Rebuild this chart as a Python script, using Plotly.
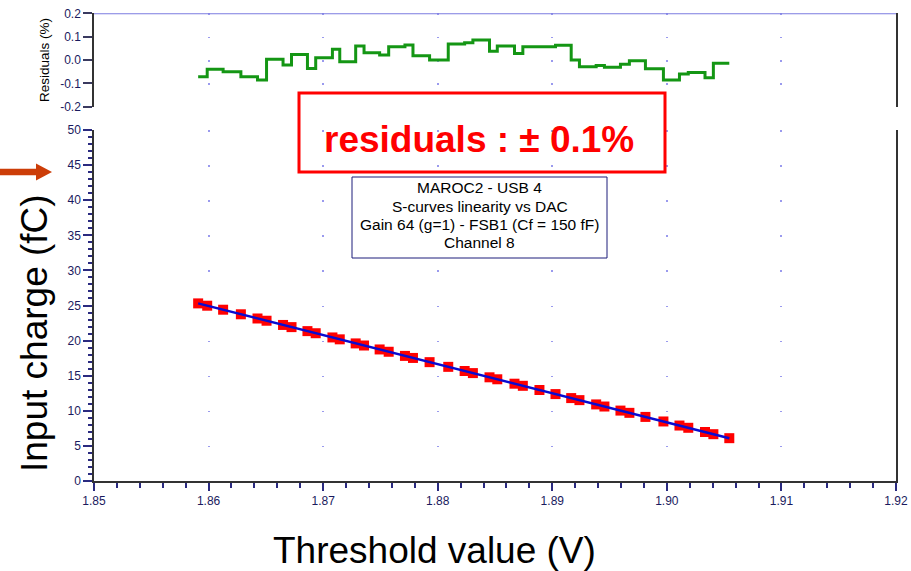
import numpy as np
import plotly.graph_objects as go

# Threshold (V) at which each S-curve reaches 50 %
threshold_v = [1.85909, 1.85988, 1.86127, 1.86282, 1.86427, 1.86506, 1.86650, 1.86724,
               1.86863, 1.86935, 1.87081, 1.87145, 1.87284, 1.87357, 1.87493, 1.87572,
               1.87714, 1.87784, 1.87929, 1.88092, 1.88235, 1.88307, 1.88452, 1.88520,
               1.88670, 1.88743, 1.88888, 1.89028, 1.89165, 1.89237, 1.89383, 1.89455,
               1.89595, 1.89673, 1.89813, 1.89970, 1.90110, 1.90187, 1.90333, 1.90406,
               1.90545]

# Injected charge (fC)
charge_fc = [25.30, 24.97, 24.40, 23.75, 23.15, 22.83, 22.23, 21.92, 21.35, 21.05,
             20.45, 20.18, 19.60, 19.30, 18.74, 18.41, 17.82, 17.53, 16.93, 16.26,
             15.67, 15.37, 14.77, 14.49, 13.86, 13.56, 12.96, 12.38, 11.81, 11.52,
             10.91, 10.61, 10.03, 9.71, 9.13, 8.48, 7.90, 7.58, 6.98, 6.67, 6.10]

# Residuals of the linear fit (%)
residual_pct = [-0.072, -0.040, -0.050, -0.072, -0.086, 0.003, -0.021, 0.024, -0.036,
                0.010, 0.046, -0.007, 0.060, 0.031, 0.021, 0.057, 0.064, 0.018, 0.000,
                0.068, 0.074, 0.086, 0.038, 0.060, 0.028, 0.057, 0.057, 0.063, 0.000,
                -0.029, -0.024, -0.031, -0.018, -0.003, -0.038, -0.086, -0.060, -0.053,
                -0.076, -0.014, -0.014]

residual_ticks = [-0.2, -0.1, 0.0, 0.1, 0.2]
residual_tick_text = ["-0.2", "-0.1", "0.0", "0.1", "0.2"]

info_lines = ["MAROC2 - USB 4", "S-curves linearity vs DAC",
              "Gain 64 (g=1) - FSB1 (Cf = 150 fF)", "Channel 8"]

W, H = 911, 571
FONT = "Arial, Liberation Sans, sans-serif"


def px(x):
    return x / W


def py(y):
    return 1 - y / H


fig = go.Figure()

# residual panel
fig.add_trace(go.Scatter(x=threshold_v, y=residual_pct, mode="lines",
                         line=dict(color="#149614", width=3, shape="hv"),
                         xaxis="x2", yaxis="y2", showlegend=False))

# measured points
fig.add_trace(go.Scatter(x=threshold_v, y=charge_fc, mode="markers",
                         marker=dict(symbol="square", size=10, color="#ff0000"),
                         xaxis="x", yaxis="y", showlegend=False))

# linear fit
slope, intercept = np.polyfit(threshold_v, charge_fc, 1)
fit_x = np.array([min(threshold_v), max(threshold_v)])
fig.add_trace(go.Scatter(x=fit_x, y=slope * fit_x + intercept, mode="lines",
                         line=dict(color="#0a0ad0", width=2.5),
                         xaxis="x", yaxis="y", showlegend=False))

tick_font = dict(family=FONT, size=12, color="#1a1a5e")
x_dom = [px(94), px(896)]

fig.update_layout(
    width=W, height=H,
    margin=dict(l=0, r=0, t=0, b=0, autoexpand=False),
    paper_bgcolor="white", plot_bgcolor="white",
    xaxis=dict(domain=x_dom, range=[1.85, 1.92], anchor="y", automargin=False,
               tick0=1.85, dtick=0.01, tickformat=".2f",
               ticks="outside", ticklen=8, tickwidth=1.5, tickcolor="#2a2a80",
               minor=dict(dtick=0.002, ticklen=5, tickwidth=1.5,
                          tickcolor="#2a2a80", ticks="outside", showgrid=False),
               showline=True, linecolor="#333333", linewidth=1.5,
               showgrid=True, gridcolor="#9a9aee", gridwidth=1.5,
               griddash="1.5px,33.6px", zeroline=False, tickfont=tick_font),
    yaxis=dict(domain=[py(481), py(130)], range=[0, 50], anchor="x", automargin=False,
               tick0=0, dtick=5,
               ticks="outside", ticklen=9, tickwidth=1.5, tickcolor="#2a2a80",
               minor=dict(dtick=1, ticklen=4, tickwidth=1.5,
                          tickcolor="#2a2a80", ticks="outside", showgrid=False),
               showline=True, mirror=True, linecolor="#333333", linewidth=1.5,
               showgrid=False, zeroline=False, tickfont=tick_font),
    xaxis2=dict(domain=x_dom, range=[1.85, 1.92], anchor="y2", automargin=False,
                tick0=1.85, dtick=0.01, showticklabels=False, ticks="",
                showline=False, showgrid=True, gridcolor="#9a9aee", gridwidth=1.5,
                griddash="1.5px,21.85px", zeroline=False),
    yaxis2=dict(domain=[py(106.7), py(13.3)], range=[-0.2, 0.2], anchor="x2",
                automargin=False,
                tickmode="array", tickvals=residual_ticks, ticktext=residual_tick_text,
                ticks="outside", ticklen=9, tickwidth=1.5, tickcolor="#3a3a60",
                showline=True, mirror=True, linecolor="#333333", linewidth=1.5,
                showgrid=False, zeroline=False, tickfont=tick_font),
)

# arrow on the left pointing at the 45 fC level
ax0, ax1, ax2 = 0, 36, 52
ay = 172
sh, hh = 3.2, 8.5
arrow = (f"M {px(ax0)},{py(ay - sh)} L {px(ax1)},{py(ay - sh)} L {px(ax1)},{py(ay - hh)} "
         f"L {px(ax2)},{py(ay)} L {px(ax1)},{py(ay + hh)} L {px(ax1)},{py(ay + sh)} "
         f"L {px(ax0)},{py(ay + sh)} Z")

fig.update_layout(shapes=[
    dict(type="line", xref="x2", yref="y2", x0=1.85, x1=1.92, y0=0.2, y1=0.2,
         line=dict(color="#7b7be0", width=2)),
    dict(type="rect", xref="paper", yref="paper", x0=px(299), x1=px(665),
         y0=py(172), y1=py(93), line=dict(color="#ff0000", width=3)),
    dict(type="rect", xref="paper", yref="paper", x0=px(352), x1=px(607),
         y0=py(258), y1=py(177), line=dict(color="#1d1d7a", width=1),
         fillcolor="white"),
    dict(type="path", xref="paper", yref="paper", path=arrow,
         fillcolor="#cc3d08", line=dict(width=0)),
])

annotations = [
    dict(text="Input charge (fC)", x=px(34), y=py(333), xref="paper", yref="paper",
         textangle=-90, showarrow=False, xanchor="center", yanchor="middle",
         font=dict(family=FONT, size=37, color="black")),
    dict(text="Threshold value (V)", x=px(434), y=py(550), xref="paper", yref="paper",
         showarrow=False, xanchor="center", yanchor="middle",
         font=dict(family=FONT, size=37, color="black")),
    dict(text="Residuals (%)", x=px(45), y=py(60), xref="paper", yref="paper",
         textangle=-90, showarrow=False, xanchor="center", yanchor="middle",
         font=dict(family=FONT, size=13.5, color="black")),
    dict(text="<b>residuals : \u00b1 0.1%</b>", x=px(479), y=py(139),
         xref="paper", yref="paper", showarrow=False, xanchor="center",
         yanchor="middle", font=dict(family=FONT, size=37, color="#ff0000")),
]
# caption inside the navy box, one annotation per line
for line_text, line_y in zip(info_lines, [188, 206.5, 224.5, 242]):
    annotations.append(dict(text=line_text, x=px(479.5), y=py(line_y),
                            xref="paper", yref="paper", showarrow=False,
                            xanchor="center", yanchor="middle",
                            font=dict(family=FONT, size=15.5, color="black")))
fig.update_layout(annotations=annotations)

fig.write_html("out.html")
